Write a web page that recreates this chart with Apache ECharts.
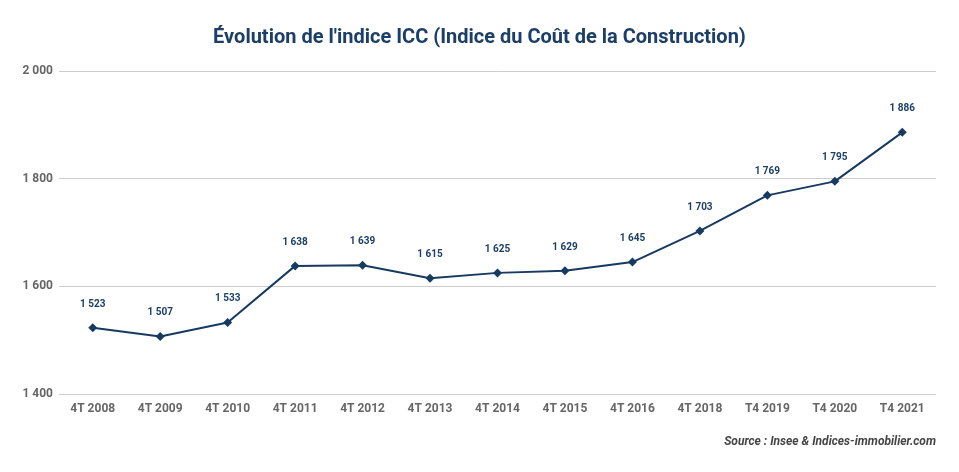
<!DOCTYPE html>
<html><head><meta charset="utf-8">
<script src="https://cdn.jsdelivr.net/npm/echarts@6/dist/echarts.min.js"></script>
<style>html,body{margin:0;padding:0;background:#fff}#c{width:959px;height:472px}</style>
</head><body><div id="c"></div>
<script>
const categories = ['4T 2008','4T 2009','4T 2010','4T 2011','4T 2012','4T 2013','4T 2014','4T 2015','4T 2016','4T 2018','T4 2019','T4 2020','T4 2021'];
const values = [1523,1507,1533,1638,1639,1615,1625,1629,1645,1703,1769,1795,1886];
const yTicks = [1400,1600,1800,2000];
const fmt = v => String(v).replace(/\B(?=(\d{3})+(?!\d))/g, ' ');
const chart = echarts.init(document.getElementById('c'));
chart.setOption({
  animation:false,
  textStyle:{fontFamily:'Roboto'},
  title:[{text:"Évolution de l'indice ICC (Indice du Coût de la Construction)",left:'center',top:23,
    textStyle:{fontFamily:'Roboto',fontSize:20,fontWeight:'bold',color:'#1b3f66'}},
    {text:'Source : Insee & Indices-immobilier.com',right:18,top:431,
    textStyle:{fontFamily:'Roboto',fontSize:12,fontWeight:'bold',fontStyle:'italic',color:'#444'}}],
  grid:{left:59,right:23,top:71,bottom:78},
  xAxis:{type:'category',data:categories,boundaryGap:true,
    axisLine:{show:false},axisTick:{show:false},
    axisLabel:{color:'#666',fontWeight:'bold',fontSize:12,margin:9}},
  yAxis:{type:'value',min:1400,max:2000,interval:200,
    axisLabel:{color:'#666',fontWeight:'bold',fontSize:12,margin:6,formatter:v=>fmt(v)},
    splitLine:{lineStyle:{color:'#cccccc'}},axisLine:{show:false},axisTick:{show:false}},
  series:[{type:'line',data:values,symbol:'diamond',symbolSize:9,
    lineStyle:{color:'#173a60',width:2},itemStyle:{color:'#173a60'},
    label:{show:true,position:'top',distance:14,color:'#1b3f66',fontWeight:'bold',fontSize:10,formatter:p=>fmt(p.value)}}]
});
</script></body></html>
